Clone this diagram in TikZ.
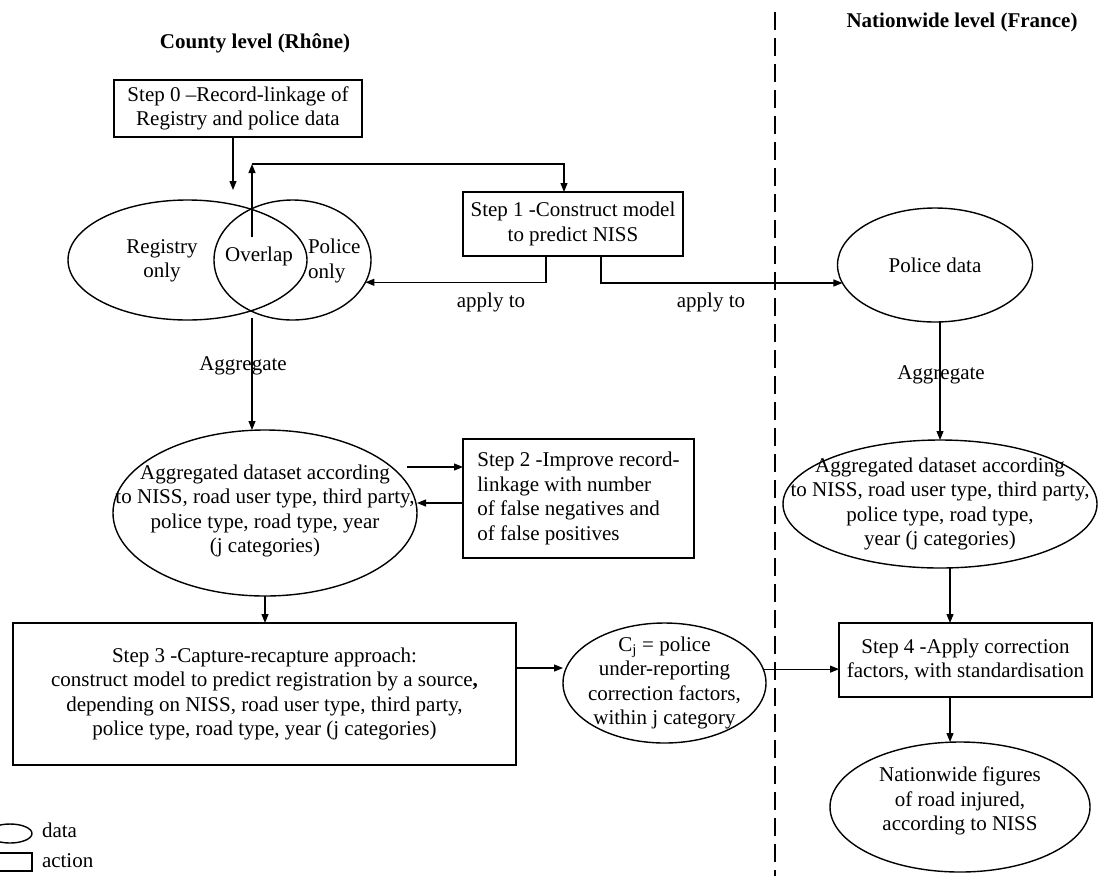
\documentclass[tikz,border=0pt]{standalone}
\usepackage{fontspec}
\setmainfont{Liberation Serif}
\usetikzlibrary{arrows.meta,shapes.geometric}
\begin{document}
\begin{tikzpicture}[x=1pt,y=-1pt,
  every node/.style={font=\fontsize{21}{24.5}\selectfont, inner sep=0pt, outer sep=0pt},
  stepbox/.style={draw, line width=1.6pt, align=center},
  dataell/.style={draw, ellipse, line width=1.4pt, inner sep=0pt},
  txt/.style={align=center},
  conn/.style={line width=1.1pt},
  arr/.style={conn, -{Triangle[length=9pt,width=7pt]}},
  head/.style={font=\fontsize{21}{24}\selectfont\bfseries},
  divider/.style={line width=1.6pt, dash pattern=on 18pt off 8pt}
]
\useasboundingbox (0,0) rectangle (1099,876);

% headings
\node[head] (hcounty) at (255,43) {County level (Rhône)};
\node[head] (hnation) at (962,22) {Nationwide level (France)};

% divider
\coordinate (dtop) at (775,12);
\coordinate (dbot) at (775,876);
\draw[divider] (dtop) -- (dbot);

% step 0
\node[stepbox, minimum width=248, minimum height=57] (step0) at (238,108.5)
  {Step 0 –Record-linkage of\\Registry and police data};

% Venn
\node[dataell, minimum width=239, minimum height=120] (reg) at (187.5,260) {};
\node[dataell, minimum width=157, minimum height=120] (pol) at (292.5,260) {};
\node[txt] (regt) at (162,261) {Registry\\only};
\node[txt] (ov) at (259,256) {Overlap};
\node[align=left, anchor=west] (polt) at (308,261) {Police\\only};

% step 1
\node[stepbox, minimum width=220, minimum height=64] (step1) at (573,224)
  {Step 1 -Construct model\\to predict NISS};

% police data (nationwide)
\node[dataell, minimum width=195, minimum height=114] (pd) at (935,265) {};
\node[txt] (pdt) at (935,265) {Police data};

% aggregated left
\node[dataell, minimum width=304, minimum height=166] (aggL) at (265,513) {};
\node[txt] (aggLt) at (265,511) {Aggregated dataset according\\to NISS, road user type, third party,\\police type, road type, year\\(j categories)};

% step 2
\node[stepbox, align=left, minimum width=231, minimum height=119] (step2) at (578.5,498.5)
  {Step 2 -Improve record-\\linkage with number\\of false negatives and\\of false positives};

% aggregated right
\node[dataell, minimum width=314, minimum height=128] (aggR) at (940,504) {};
\node[txt] (aggRt) at (940,504) {Aggregated dataset according\\to NISS, road user type, third party,\\police type, road type,\\year (j categories)};

% step 3
\node[stepbox, minimum width=503, minimum height=142] (step3) at (264.5,694)
  {Step 3 -Capture-recapture approach:\\construct model to predict registration by a source{\bfseries ,}\\depending on NISS, road user type, third party,\\police type, road type, year (j categories)};

% Cj
\node[dataell, minimum width=203, minimum height=120] (cj) at (664.5,683) {};
\node[txt] (cjt) at (664.5,683) {C\textsubscript{j} = police\\under-reporting\\correction factors,\\within j category};

% step 4
\node[stepbox, minimum width=253, minimum height=74] (step4) at (965.5,660)
  {Step 4 -Apply correction\\factors, with standardisation};

% nationwide figures
\node[dataell, minimum width=260, minimum height=130] (nw) at (960,807) {};
\node[txt] (nwt) at (960,801) {Nationwide figures\\of road injured,\\according to NISS};

% legend
\node[dataell, minimum width=44, minimum height=19] (legell) at (10,833.5) {};
\node[draw, line width=1.4pt, minimum width=40, minimum height=18] (legbox) at (12,862) {};
\node[anchor=west] (legdata) at (42,830) {data};
\node[anchor=west] (legaction) at (42,861) {action};

% connectors
\coordinate (venntop) at (233,190);
\draw[arr] ([xshift=-5pt]step0.south) -- (venntop);

\coordinate (corner) at (252,164);
\draw[arr] ([yshift=9pt]ov.north -| corner) -- (corner);
\draw[arr] (corner) -| ([xshift=-9pt]step1.north);

\draw[arr] ([xshift=-27pt]step1.south) |- (pol.-17.6);
\draw[arr] ([xshift=28pt]step1.south) |- (pd.191);
\node (apply1) at (491,302) {apply to};
\node (apply2) at (711,302) {apply to};

\coordinate (vennbot) at (252,318);
\draw[arr] (vennbot) -- (vennbot |- aggL.north);
\node (aggr1) at (243,366) {Aggregate};

\coordinate (s2out) at (407,467);
\draw[arr] (s2out) -- (s2out -| step2.west);
\coordinate (s2in) at ([yshift=-4.5pt]step2.west);
\draw[arr] (s2in) -- (aggL.east |- s2in);

\draw[arr] (aggL.south) -- (aggL.south |- step3.north);

\coordinate (s3out) at ([yshift=26pt]step3.east);
\draw[arr] (s3out) -- (s3out -| cj.west);

\draw[arr] (cj.8.7) -- (cj.8.7 -| step4.west);

\coordinate (pdbot) at (pd.south -| aggR.north);
\draw[arr] (pdbot) -- (aggR.north);
\node (aggr2) at (941,375) {Aggregate};

\coordinate (aRbot) at ([xshift=10pt]aggR.south);
\draw[arr] (aRbot) -- (aRbot |- step4.north);

\coordinate (s4out) at ([xshift=-15.5pt]step4.south);
\draw[arr] (s4out) -- (s4out |- nw.north);

\end{tikzpicture}
\end{document}
